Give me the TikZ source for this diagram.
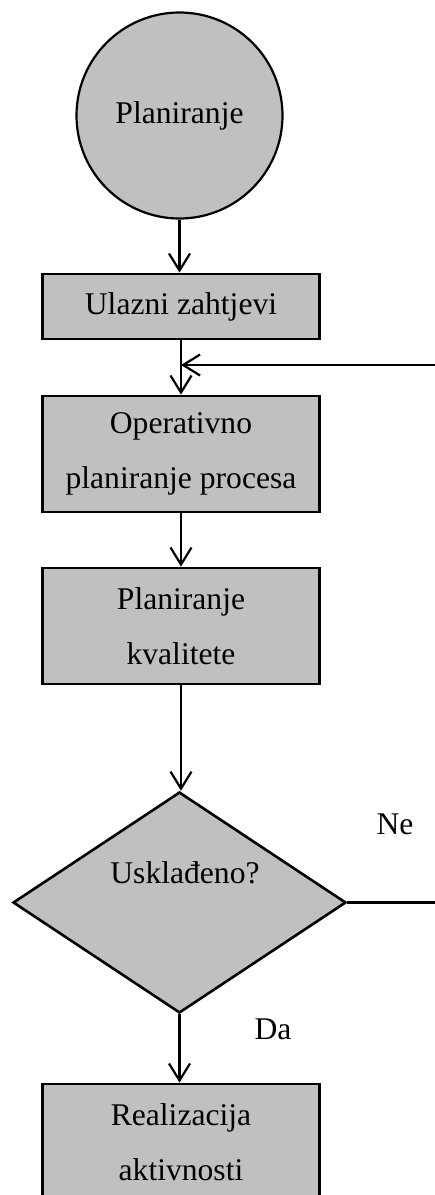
\documentclass[tikz,border=0pt]{standalone}
\usepackage{fontspec}
\setmainfont{Liberation Serif}
\usetikzlibrary{shapes.geometric,arrows.meta}
\definecolor{boxgray}{RGB}{192,192,192}
\begin{document}
\begin{tikzpicture}[x=1pt,y=-1pt,
  every node/.style={font=\fontsize{31.6}{55}\selectfont},
  stepbox/.style={rectangle,draw,fill=boxgray,line width=2.8pt,minimum width=276.5pt,inner sep=0pt,align=center},
  startcirc/.style={circle,draw,fill=boxgray,line width=2.2pt,minimum size=206pt,inner sep=0pt},
  decision/.style={diamond,draw,fill=boxgray,line width=2.6pt,minimum width=333pt,minimum height=221pt,inner sep=0pt},
  conn/.style={line width=2.2pt},
  arr/.style={conn,-{Straight Barb[length=17pt,width=21pt,line width=2.2pt]}},
  lbl/.style={anchor=base,inner sep=0pt}]
\useasboundingbox (0,0) rectangle (435,1195);
\begin{scope}
\clip (0,0) rectangle (435,1195);
\node[startcirc] (plan) at (179.5,115.5) {Planiranje};
\node[stepbox,minimum height=65pt] (ulaz) at (181,306.5) {Ulazni zahtjevi};
\node[stepbox,minimum height=116pt] (oper) at (181,454) {Operativno\\planiranje procesa};
\node[stepbox,minimum height=116pt] (kval) at (181,626) {Planiranje\\kvalitete};
\node[decision] (uskl) at (179.5,902.5) {};
\node[lbl] (usktxt) at (185,883) {Usklađeno?};
\node[stepbox,minimum height=116pt] (real) at (181,1142) {Realizacija\\aktivnosti};
\node[lbl] (ne) at (395,834) {Ne};
\node[lbl] (da) at (273,1039) {Da};
\coordinate (fb) at (435,365);
\coordinate (neend) at (435,902);
\draw[arr] (plan.south) -- (plan.south |- ulaz.north);
\draw[arr] (ulaz.south) -- (oper.north);
\draw[arr] (fb) -- (fb -| oper.north);
\draw[arr] (oper.south) -- (kval.north);
\draw[arr] (kval.south) -- (kval.south |- uskl.north);
\draw[arr] (uskl.south) -- (uskl.south |- real.north);
\draw[conn] (uskl.east) -- (uskl.east -| neend);
\end{scope}
\end{tikzpicture}
\end{document}
